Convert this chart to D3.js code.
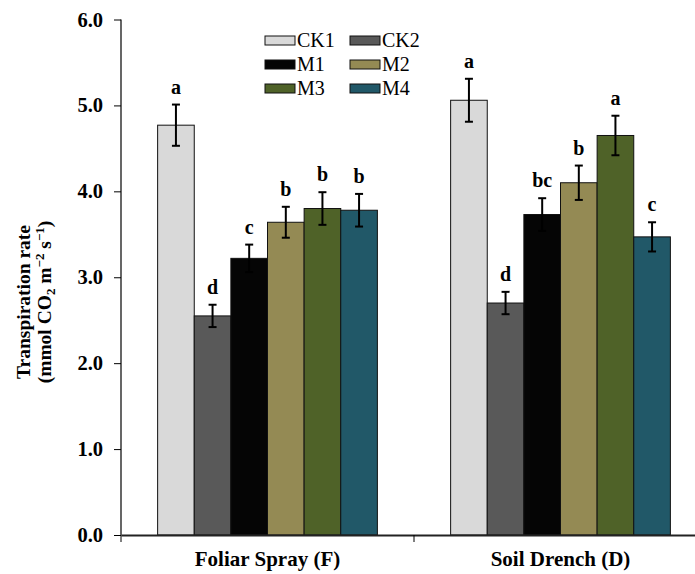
<!DOCTYPE html>
<html>
<head>
<meta charset="utf-8">
<script src="https://cdn.jsdelivr.net/npm/d3@7"></script>
<style>
  body { margin: 0; background: #fff; }
  svg, svg text { font-family: "Liberation Serif", "Times New Roman", serif !important; }
</style>
</head>
<body>
<div id="chart"></div>
<script>
// data
var groups = ["Foliar Spray (F)", "Soil Drench (D)"];
var treatments = ["CK1", "CK2", "M1", "M2", "M3", "M4"];
var colors = ["#d9d9d9", "#595959", "#050505", "#948a54", "#4f6228", "#215868"];
var foliarMeans = [4.77, 2.55, 3.22, 3.64, 3.80, 3.78];
var foliarErrors = [0.24, 0.13, 0.16, 0.18, 0.19, 0.19];
var foliarLetters = ["a", "d", "c", "b", "b", "b"];
var soilMeans = [5.06, 2.70, 3.73, 4.10, 4.65, 3.47];
var soilErrors = [0.25, 0.13, 0.19, 0.20, 0.23, 0.17];
var soilLetters = ["a", "d", "bc", "b", "a", "c"];
var yTicks = [0, 1, 2, 3, 4, 5, 6];

var svgWidth = 695;
var svgHeight = 574;
var margin = { top: 19.5, right: -12, bottom: 39, left: 121 };
var width = svgWidth - margin.left - margin.right;
var height = svgHeight - margin.top - margin.bottom;

var svg = d3.select("#chart")
  .append("svg")
  .attr("width", svgWidth)
  .attr("height", svgHeight);

var chartGroup = svg.append("g")
  .attr("transform", `translate(${margin.left}, ${margin.top})`);

var rows = [];
groups.forEach(function(g, gi) {
  var means = gi === 0 ? foliarMeans : soilMeans;
  var errs = gi === 0 ? foliarErrors : soilErrors;
  var lets = gi === 0 ? foliarLetters : soilLetters;
  treatments.forEach(function(t, ti) {
    rows.push({ group: g, treatment: t, value: means[ti], err: errs[ti], letter: lets[ti], color: colors[ti] });
  });
});

var x0 = d3.scaleBand().domain(groups).range([0, width]).paddingInner(0).paddingOuter(0);
var x1 = d3.scaleBand().domain(treatments).range([0, x0.bandwidth()]).paddingOuter(1);
var y = d3.scaleLinear().domain([0, 6]).range([height, 0]);

// bars
var barG = chartGroup.selectAll(".bar")
  .data(rows)
  .enter()
  .append("g")
  .attr("transform", d => `translate(${x0(d.group) + x1(d.treatment)}, 0)`);

barG.append("rect")
  .attr("x", 0)
  .attr("y", d => y(d.value))
  .attr("width", x1.bandwidth())
  .attr("height", d => y(0) - y(d.value))
  .attr("fill", d => d.color)
  .attr("stroke", "#111")
  .attr("stroke-width", 1);

// error bars
var cx = x1.bandwidth() / 2;
barG.append("line")
  .attr("x1", cx).attr("x2", cx)
  .attr("y1", d => y(d.value + d.err))
  .attr("y2", d => y(d.value - d.err))
  .attr("stroke", "#000").attr("stroke-width", 2);
barG.append("line")
  .attr("x1", cx - 4).attr("x2", cx + 4)
  .attr("y1", d => y(d.value + d.err))
  .attr("y2", d => y(d.value + d.err))
  .attr("stroke", "#000").attr("stroke-width", 2);
barG.append("line")
  .attr("x1", cx - 4).attr("x2", cx + 4)
  .attr("y1", d => y(d.value - d.err))
  .attr("y2", d => y(d.value - d.err))
  .attr("stroke", "#000").attr("stroke-width", 2);

// significance letters
barG.append("text")
  .attr("x", cx)
  .attr("y", d => y(d.value + d.err) - 11)
  .attr("text-anchor", "middle")
  .attr("font-size", "20px")
  .attr("font-weight", "bold")
  .text(d => d.letter);

// axes
var leftAxis = d3.axisLeft(y)
  .tickValues(yTicks)
  .tickFormat(d3.format(".1f"))
  .tickSize(7)
  .tickPadding(11);

var yAxisG = chartGroup.append("g").call(leftAxis);
yAxisG.select(".domain").attr("d", `M0,${height}V0`).attr("stroke-width", 1.2);
yAxisG.selectAll("text")
  .attr("font-size", "20.5px")
  .attr("font-weight", "bold")
  .attr("fill", "#000");

var bottomAxis = d3.axisBottom(x0)
  .tickValues([])
  .tickSizeOuter(0);
var xAxisG = chartGroup.append("g")
  .attr("transform", `translate(0, ${height})`)
  .call(bottomAxis);
xAxisG.select(".domain").attr("stroke-width", 1.8).attr("stroke", "#222");

// group boundary ticks
var boundaries = [0, x0(groups[1]), width];
xAxisG.selectAll(".btick")
  .data(boundaries)
  .enter()
  .append("line")
  .attr("x1", d => d).attr("x2", d => d)
  .attr("y1", 0).attr("y2", 7)
  .attr("stroke", "#000").attr("stroke-width", 1);

xAxisG.selectAll(".glabel")
  .data(groups)
  .enter()
  .append("text")
  .attr("x", d => x0(d) + x0.bandwidth() / 2)
  .attr("y", 31)
  .attr("text-anchor", "middle")
  .attr("font-size", "21px")
  .attr("font-weight", "bold")
  .attr("fill", "#000")
  .text(d => d);

// y axis title
var yTitle = svg.append("text")
  .attr("transform", "translate(0, 302) rotate(-90)")
  .attr("text-anchor", "middle")
  .attr("font-size", "19.5px")
  .attr("font-weight", "bold");
yTitle.append("tspan").attr("x", 0).attr("y", 30).text("Transpiration rate");
var l2 = yTitle.append("tspan").attr("x", 0).attr("y", 51);
l2.append("tspan").text("(mmol CO");
l2.append("tspan").attr("font-size", "13px").attr("dy", 4).text("2");
l2.append("tspan").attr("dy", -4).text(" m");
l2.append("tspan").attr("font-size", "13px").attr("dy", -7).text("\u22122");
l2.append("tspan").attr("dy", 7).text(" s");
l2.append("tspan").attr("font-size", "13px").attr("dy", -7).text("\u22121");
l2.append("tspan").attr("dy", 7).text(")");

// legend
var legend = svg.append("g");
var legendItems = legend.selectAll(".leg")
  .data(treatments)
  .enter()
  .append("g")
  .attr("transform", (d, i) => `translate(${265 + (i % 2) * 85}, ${36 + Math.floor(i / 2) * 24})`);
legendItems.append("rect")
  .attr("width", 30).attr("height", 9)
  .attr("fill", (d, i) => colors[i])
  .attr("stroke", "#111").attr("stroke-width", 1);
legendItems.append("text")
  .attr("x", 32).attr("y", 11)
  .attr("font-size", "20px")
  .text(d => d);
</script>
</body>
</html>
